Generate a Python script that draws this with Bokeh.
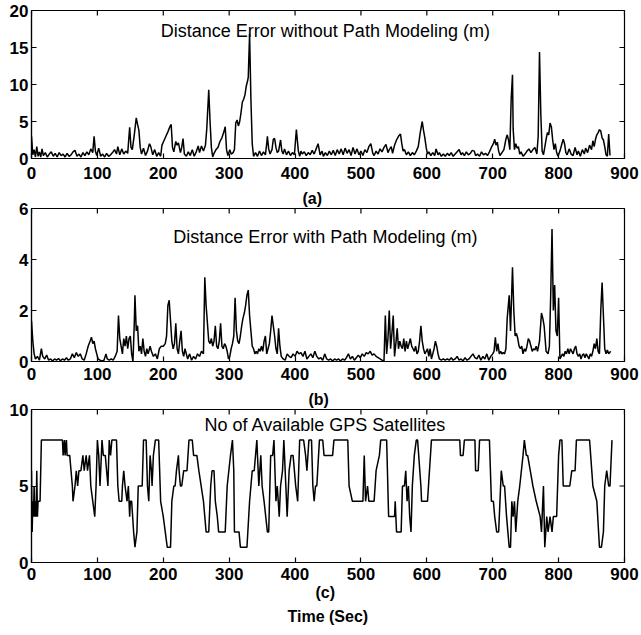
import math
from bokeh.plotting import figure
from bokeh.models import FixedTicker, Range1d, Label, Title
from bokeh.layouts import column
from bokeh.embed import file_html
from bokeh.resources import INLINE

FONT = "Liberation Sans"

x_ticks = [0, 100, 200, 300, 400, 500, 600, 700, 800, 900]
ya_ticks = [0, 5, 10, 15, 20]
yb_ticks = [0, 2, 4, 6]
yc_ticks = [0, 5, 10]

title_a = "Distance Error without Path Modeling (m)"
title_b = "Distance Error with Path Modeling (m)"
title_c = "No of Available GPS Satellites"
xlabel = "Time (Sec)"

# (a) distance error without path modeling (time s, metres)
t_a = [0, 2, 4, 6, 8, 10, 12, 14, 16, 18, 21, 24, 27, 30, 33, 36, 39, 42, 45, 48, 51, 54, 57, 60,
       63, 66, 69, 72, 75, 78, 81, 84, 87, 90, 93, 95, 97, 99, 102, 105, 108, 111, 114, 117, 120,
       123, 126, 129, 131, 134, 137, 140, 143, 146, 149, 151, 153, 156, 159, 161, 163, 165, 167,
       170, 173, 176, 179, 181, 184, 187, 190, 193, 196, 198, 201, 204, 207, 210, 212, 214, 216,
       219, 221, 223, 226, 228, 230, 232, 235, 238, 241, 244, 247, 250, 253, 255, 258, 261, 264,
       266, 268, 269, 271, 273, 275, 277, 280, 283, 286, 289, 292, 294, 296, 298, 301, 303, 306,
       308, 310, 312, 314, 316, 318, 320, 322, 324, 326, 328, 329, 331, 333, 335, 337, 340, 343,
       346, 349, 352, 355, 357, 358, 360, 362, 365, 367, 369, 371, 373, 375, 378, 380, 382, 384,
       387, 390, 393, 396, 399, 402, 405, 407, 409, 411, 414, 417, 420, 423, 426, 429, 432, 435,
       438, 441, 443, 446, 449, 452, 455, 458, 461, 464, 467, 470, 473, 476, 479, 482, 485, 488,
       491, 494, 497, 500, 503, 506, 509, 512, 515, 518, 520, 523, 526, 529, 532, 535, 538, 541,
       543, 546, 548, 551, 554, 557, 560, 562, 564, 566, 569, 572, 575, 578, 581, 584, 587, 590,
       593, 595, 597, 599, 601, 603, 606, 609, 612, 614, 617, 619, 622, 625, 628, 631, 634, 637,
       640, 643, 646, 649, 652, 654, 657, 660, 663, 666, 669, 672, 674, 677, 680, 683, 686, 689,
       692, 695, 698, 701, 703, 705, 707, 709, 711, 714, 717, 720, 722, 724, 726, 728, 730, 731,
       733, 735, 737, 739, 741, 743, 746, 749, 752, 755, 758, 761, 764, 767, 769, 771, 773, 775,
       777, 779, 781, 783, 785, 787, 789, 791, 793, 795, 797, 799, 802, 805, 807, 809, 811, 813,
       816, 819, 822, 825, 828, 830, 833, 836, 839, 841, 844, 847, 850, 852, 854, 856, 858, 860,
       862, 864, 866, 868, 870, 872, 874, 876, 878, 880]
v_a = [3.0, 0.5, 1.2, 0.2, 1.6, 0.3, 0.9, 0.2, 1.3, 0.4, 0.8, 0.2, 0.6, 0.9, 0.3, 0.7, 0.2, 0.8,
       0.4, 0.6, 0.2, 0.7, 0.3, 0.5, 0.9, 1.1, 0.3, 0.6, 0.2, 0.8, 0.4, 0.9, 0.5, 1.3, 0.8, 3.0,
       1.0, 0.4, 1.4, 0.3, 0.6, 0.2, 0.7, 0.3, 0.5, 0.8, 1.2, 0.6, 1.6, 0.5, 1.3, 0.6, 1.0, 0.7,
       4.2, 1.5, 1.2, 3.2, 5.5, 4.6, 3.8, 1.5, 0.6, 1.4, 0.4, 1.0, 2.0, 1.6, 0.5, 1.2, 0.3, 0.8,
       0.3, 1.8, 2.4, 3.0, 3.6, 4.3, 4.6, 1.5, 0.9, 2.3, 1.8, 2.1, 0.8, 1.5, 2.7, 0.6, 0.3, 0.9,
       0.4, 1.2, 0.3, 0.9, 1.7, 0.8, 1.7, 1.0, 1.8, 4.0, 7.5, 9.3, 5.0, 1.5, 0.2, 0.7, 1.2, 1.5,
       2.3, 2.8, 3.6, 4.3, 1.2, 0.4, 1.2, 0.6, 0.8, 1.2, 4.8, 5.2, 4.4, 5.0, 6.2, 7.6, 8.0, 8.6,
       9.8, 10.5, 11.0, 16.9, 8.0, 2.0, 0.3, 0.8, 0.3, 1.0, 0.4, 0.9, 0.5, 2.0, 3.0, 1.3, 0.6,
       1.2, 2.6, 2.7, 1.5, 0.8, 1.0, 2.5, 1.0, 0.6, 1.3, 0.5, 1.0, 0.4, 0.8, 0.5, 3.9, 1.0, 0.3,
       1.0, 0.6, 0.9, 0.4, 0.8, 0.5, 1.1, 0.6, 1.3, 2.0, 0.5, 1.0, 0.3, 0.8, 0.4, 1.0, 0.5, 1.1,
       0.4, 1.2, 0.6, 1.3, 0.5, 1.4, 0.7, 1.2, 0.4, 1.5, 0.6, 1.3, 0.5, 1.0, 0.4, 1.2, 0.8, 1.6,
       2.0, 0.7, 0.4, 1.0, 0.6, 1.3, 0.9, 1.5, 1.9, 0.8, 1.2, 1.6, 0.7, 1.8, 2.5, 3.0, 3.3, 2.0,
       1.0, 1.2, 0.5, 0.9, 0.4, 0.8, 0.5, 1.0, 1.6, 3.5, 5.0, 3.8, 2.8, 1.5, 0.6, 0.9, 0.4, 0.8,
       0.4, 1.3, 0.5, 0.8, 0.3, 0.6, 0.3, 0.7, 0.4, 0.8, 0.3, 0.6, 0.9, 1.2, 0.5, 0.8, 0.4, 0.9,
       0.5, 0.7, 1.1, 1.0, 0.4, 0.6, 0.3, 0.9, 0.5, 0.7, 0.4, 0.9, 1.5, 2.0, 2.6, 1.8, 2.2, 1.0,
       0.4, 0.8, 1.2, 2.6, 3.2, 2.5, 1.2, 8.0, 11.3, 4.0, 1.2, 2.0, 1.4, 1.6, 0.6, 0.9, 0.3, 0.6,
       1.0, 1.3, 0.8, 1.2, 1.5, 0.6, 3.0, 14.4, 6.0, 1.0, 0.5, 1.5, 2.6, 3.5, 3.2, 4.8, 4.3, 2.5,
       1.2, 2.0, 0.8, 0.3, 1.0, 2.0, 2.6, 2.0, 0.8, 0.5, 1.3, 0.6, 0.4, 1.5, 0.5, 1.0, 0.3, 1.2,
       0.6, 1.4, 0.8, 1.8, 1.2, 2.4, 1.6, 2.6, 3.2, 3.5, 3.9, 3.7, 2.8, 2.5, 1.6, 0.5, 0.3, 3.3,
       0.4]

# (b) distance error with path modeling (time s, metres)
t_b = [0, 2, 4, 6, 9, 12, 15, 17, 20, 23, 26, 29, 32, 35, 38, 41, 44, 47, 50, 53, 56, 59, 62,
       65, 68, 71, 74, 77, 80, 83, 86, 89, 91, 93, 95, 97, 99, 101, 104, 107, 110, 113, 115,
       118, 121, 124, 127, 130, 132, 134, 136, 138, 140, 142, 144, 146, 148, 150, 152, 154,
       156, 157, 159, 161, 163, 165, 167, 169, 171, 173, 175, 177, 180, 182, 185, 188, 191,
       194, 197, 200, 203, 205, 207, 209, 211, 213, 215, 217, 219, 221, 223, 225, 227, 229,
       231, 233, 235, 237, 240, 243, 246, 249, 252, 255, 258, 261, 263, 265, 267, 269, 271,
       273, 275, 277, 279, 281, 283, 285, 287, 289, 291, 293, 295, 297, 299, 301, 303, 305,
       307, 309, 311, 313, 315, 317, 319, 321, 323, 325, 327, 329, 331, 333, 335, 337, 339,
       341, 343, 345, 347, 349, 351, 353, 355, 357, 359, 361, 363, 365, 367, 369, 371, 373,
       375, 377, 379, 382, 385, 388, 391, 394, 397, 400, 403, 406, 409, 412, 415, 418, 421,
       424, 427, 430, 433, 436, 439, 442, 445, 448, 451, 454, 457, 460, 463, 466, 469, 472,
       475, 478, 481, 484, 487, 490, 493, 496, 499, 502, 505, 508, 511, 514, 517, 520, 523,
       526, 529, 532, 535, 537, 539, 541, 543, 545, 547, 549, 551, 553, 555, 557, 559, 561,
       563, 565, 567, 569, 571, 573, 575, 577, 579, 581, 583, 585, 587, 589, 591, 593, 595,
       597, 599, 601, 603, 605, 607, 609, 611, 613, 615, 617, 619, 622, 625, 628, 631, 634,
       637, 640, 643, 646, 649, 652, 655, 658, 661, 664, 667, 670, 673, 676, 679, 682, 685,
       688, 691, 694, 697, 700, 702, 704, 706, 708, 710, 712, 714, 716, 718, 720, 722, 725,
       727, 730, 732, 734, 736, 738, 740, 742, 744, 746, 748, 750, 752, 754, 756, 758, 760,
       762, 764, 766, 768, 771, 774, 776, 778, 781, 784, 786, 788, 790, 792, 794, 796, 798,
       800, 802, 804, 806, 808, 810, 812, 814, 816, 818, 820, 822, 824, 826, 828, 830, 832,
       834, 836, 838, 840, 842, 844, 846, 848, 850, 852, 854, 856, 858, 860, 862, 864, 866,
       868, 870, 872, 874, 876, 879]
v_b = [1.6, 0.8, 0.3, 0.1, 0.2, 0.05, 0.5, 0.2, 0.1, 0.25, 0.05, 0.1, 0.02, 0.1, 0.05, 0.12,
       0.03, 0.1, 0.05, 0.15, 0.05, 0.1, 0.3, 0.15, 0.35, 0.2, 0.3, 0.1, 0.05, 0.3, 0.6, 0.8,
       0.95, 0.7, 0.8, 0.5, 0.3, 0.1, 0.05, 0.02, 0.05, 0.3, 0.1, 0.05, 0.1, 0.05, 0.2, 0.4,
       1.8, 0.9, 0.6, 0.3, 0.9, 0.6, 1.0, 0.5, 0.9, 1.0, 0.3, 0.0, 1.5, 2.6, 1.2, 1.4, 0.4,
       0.6, 0.3, 0.9, 0.4, 0.2, 0.5, 0.3, 0.6, 0.4, 0.2, 0.3, 0.1, 0.5, 0.6, 0.6, 0.7, 1.0,
       2.2, 2.4, 1.6, 0.8, 0.5, 0.7, 1.5, 0.5, 0.3, 0.8, 1.2, 0.4, 0.2, 0.5, 0.3, 0.1, 0.3,
       0.05, 0.2, 0.1, 0.3, 0.2, 0.4, 0.3, 3.3, 2.2, 1.5, 0.8, 0.7, 0.9, 0.6, 0.8, 1.4, 0.6,
       0.5, 0.8, 1.5, 0.6, 0.5, 0.7, 0.6, 0.4, 0.1, 0.2, 0.5, 0.7, 1.0, 2.5, 1.2, 0.8, 0.7,
       1.0, 1.4, 1.7, 1.9, 2.2, 2.6, 2.8, 1.8, 1.2, 0.6, 0.5, 0.3, 0.4, 0.3, 0.5, 0.4, 0.6,
       0.4, 0.8, 1.0, 0.3, 0.5, 0.7, 1.2, 1.8, 1.4, 1.0, 0.5, 0.3, 1.3, 0.6, 0.2, 0.1, 0.05,
       0.3, 0.2, 0.15, 0.3, 0.2, 0.4, 0.3, 0.35, 0.2, 0.4, 0.1, 0.2, 0.3, 0.15, 0.4, 0.2, 0.1,
       0.15, 0.05, 0.3, 0.1, 0.05, 0.1, 0.02, 0.1, 0.05, 0.1, 0.02, 0.1, 0.05, 0.15, 0.3, 0.1,
       0.2, 0.05, 0.15, 0.25, 0.15, 0.3, 0.2, 0.35, 0.3, 0.4, 0.25, 0.3, 0.2, 0.15, 0.1, 0.05,
       0.02, 1.8, 0.3, 0.9, 2.0, 0.5, 1.1, 1.8, 0.2, 0.7, 1.3, 0.5, 0.8, 0.6, 0.5, 0.9, 0.4,
       0.8, 0.5, 0.7, 0.9, 0.6, 0.5, 0.4, 0.6, 0.3, 0.4, 0.8, 1.4, 0.8, 0.5, 0.3, 0.4, 0.5,
       0.2, 0.5, 0.1, 0.3, 0.5, 0.8, 0.6, 0.3, 0.1, 0.05, 0.1, 0.05, 0.1, 0.05, 0.15, 0.05,
       0.1, 0.2, 0.05, 0.1, 0.02, 0.15, 0.05, 0.1, 0.2, 0.3, 0.15, 0.1, 0.25, 0.05, 0.2, 0.1,
       0.3, 0.05, 0.2, 0.3, 0.4, 0.95, 0.4, 0.7, 0.3, 0.4, 0.3, 0.35, 0.3, 0.5, 1.7, 2.6, 1.2,
       3.7, 2.0, 1.0, 1.1, 0.9, 0.6, 0.5, 0.6, 0.3, 0.5, 0.4, 0.6, 0.9, 0.8, 0.6, 0.4, 0.5,
       0.45, 0.6, 0.4, 0.8, 1.9, 1.7, 1.4, 0.4, 0.3, 0.6, 2.6, 5.2, 2.0, 3.0, 1.2, 1.0, 2.5,
       0.1, 0.2, 0.3, 0.2, 0.4, 0.3, 0.5, 0.3, 0.5, 0.4, 0.3, 0.5, 0.6, 0.3, 0.2, 0.3, 0.1,
       0.25, 0.3, 0.15, 0.3, 0.2, 0.1, 0.3, 0.2, 0.4, 0.7, 0.5, 0.9, 0.4, 0.3, 2.0, 3.1, 1.8,
       0.5, 0.3, 0.45, 0.3, 0.4, 0.3, 0.5]

# (c) number of available GPS satellites
t_c = [0, 1, 2, 3, 4, 5, 6, 7, 8, 9, 10, 13, 15, 47, 48, 50, 51, 53, 54, 58, 62, 63, 66, 68,
       70, 72, 75, 78, 80, 83, 85, 88, 90, 93, 96, 98, 100, 102, 104, 107, 109, 112, 114, 116,
       118, 120, 122, 129, 131, 133, 137, 138, 140, 142, 145, 147, 149, 150, 152, 155, 157,
       160, 162, 168, 170, 174, 176, 178, 180, 182, 183, 185, 188, 193, 196, 200, 206, 211,
       213, 216, 218, 220, 223, 224, 226, 228, 231, 236, 239, 244, 246, 251, 254, 261, 265,
       269, 272, 274, 277, 279, 282, 284, 294, 297, 302, 305, 307, 308, 315, 317, 327, 331,
       335, 338, 342, 345, 348, 350, 353, 358, 360, 363, 366, 368, 371, 373, 376, 378, 381,
       383, 386, 388, 391, 394, 397, 401, 404, 407, 413, 416, 418, 421, 425, 427, 429, 431,
       433, 437, 442, 444, 457, 459, 480, 482, 487, 503, 505, 507, 510, 512, 520, 523, 528,
       530, 539, 542, 551, 552, 554, 561, 563, 566, 568, 570, 572, 574, 576, 578, 581, 584,
       586, 591, 592, 601, 607, 650, 651, 655, 657, 673, 674, 678, 680, 695, 698, 701, 703,
       706, 709, 711, 713, 716, 718, 721, 723, 725, 727, 729, 731, 733, 735, 738, 741, 746,
       748, 751, 753, 757, 761, 766, 772, 774, 777, 779, 782, 784, 787, 790, 792, 797, 800,
       802, 805, 807, 817, 820, 825, 827, 847, 852, 858, 862, 865, 868, 870, 873, 876, 878,
       881]
v_c = [6, 2, 4, 3, 5, 3, 4, 3, 6, 3, 4, 4, 8, 8, 7, 8, 7, 8, 7, 7, 5, 4, 5, 6, 5, 6, 6, 7, 6,
       7, 6, 7, 5, 4, 3, 5, 8, 7, 5, 8, 7, 7, 6, 5, 8, 7, 8, 8, 5, 4, 4, 5, 6, 5, 4, 5, 3, 4,
       4, 2, 1, 2, 5, 5, 8, 8, 5, 4, 7, 6, 5, 7, 8, 8, 4, 3, 1, 1, 4, 5, 5, 6, 7, 6, 5, 5, 6,
       6, 8, 8, 7, 7, 6, 4, 2, 2, 5, 6, 6, 4, 3, 2, 2, 5, 7, 8, 6, 2, 2, 1, 1, 4, 6, 6, 8, 5,
       7, 5, 4, 2, 2, 7, 7, 8, 4, 5, 3, 5, 6, 8, 5, 3, 6, 7, 7, 5, 4, 8, 8, 7, 6, 8, 8, 5, 4,
       5, 5, 8, 8, 7, 7, 8, 8, 5, 4, 4, 7, 4, 5, 4, 4, 6, 7, 8, 8, 3, 3, 4, 2, 2, 5, 5, 6, 4,
       5, 3, 2, 5, 7, 8, 8, 5, 4, 4, 8, 8, 7, 7, 8, 8, 6, 6, 8, 8, 4, 4, 3, 2, 2, 4, 6, 5, 5,
       3, 2, 1, 1, 4, 3, 4, 2, 4, 5, 7, 8, 7, 7, 6, 5, 4, 3, 2, 5, 1, 3, 2, 3, 2, 3, 3, 7, 8,
       8, 5, 5, 6, 6, 8, 8, 5, 4, 1, 1, 2, 5, 6, 5, 5, 8]


def style_axis(ax, ticks, standoff):
    ax.ticker = FixedTicker(ticks=ticks)
    ax.major_tick_in = 5
    ax.major_tick_out = 0
    ax.minor_tick_in = 0
    ax.minor_tick_out = 0
    ax.axis_line_color = "black"
    ax.axis_line_width = 1.2
    ax.major_tick_line_color = "black"
    ax.major_tick_line_width = 1.2
    ax.major_label_text_font = FONT
    ax.major_label_text_font_size = "17px"
    ax.major_label_text_font_style = "bold"
    ax.major_label_text_color = "black"
    ax.major_label_standoff = standoff


def make_panel(t, v, yr, yticks, height, top, bottom, xstand, title_text, title_y):
    p = figure(width=641, height=height, x_range=Range1d(0, 900), y_range=Range1d(*yr),
               output_backend="svg", toolbar_location=None, title_location=None,
               min_border_left=31, min_border_right=17,
               min_border_top=top, min_border_bottom=bottom)
    p.grid.visible = False
    p.outline_line_color = "black"
    p.outline_line_width = 1.2
    p.outline_line_alpha = 1.0
    p.background_fill_color = "white"
    p.border_fill_color = "white"
    style_axis(p.xaxis[0], x_ticks, xstand)
    style_axis(p.yaxis[0], yticks, 3)
    # inward ticks on the top and right edges of the box
    p.ray(x=x_ticks, y=[yr[1]] * len(x_ticks), length=5, length_units="screen",
          angle=-math.pi / 2, line_color="black", line_width=1.2)
    p.ray(x=[900] * len(yticks), y=yticks, length=5, length_units="screen",
          angle=math.pi, line_color="black", line_width=1.2)
    p.line(t, v, line_color="black", line_width=1.5)
    p.add_layout(Label(x=446, y=title_y, text=title_text, text_align="center",
                       text_baseline="middle", text_font=FONT, text_font_size="18px",
                       text_color="black"))
    return p


def add_title(p, text, side, offset, standoff, valign="bottom", size="16px"):
    p.add_layout(Title(text=text, align="left", offset=offset, standoff=standoff,
                       vertical_align=valign,
                       text_font=FONT, text_font_size=size, text_font_style="bold",
                       text_color="black"), side)


pa = make_panel(t_a, v_a, (0, 20), ya_ticks, 187, 10, 29, 8, title_a, 17.2)

pb = make_panel(t_b, v_b, (0, 6), yb_ticks, 201, 21, 27, 6, title_b, 4.9)
add_title(pb, "(a)", "above", 271, 0, "top")

pc = make_panel(t_c, v_c, (0, 10), yc_ticks, 242, 21, 68, 5, title_c, 9.0)
add_title(pc, "(b)", "above", 277, 0, "top")
add_title(pc, "(c)", "below", 284, -1)
add_title(pc, xlabel, "below", 256, 11)

layout = column(pa, pb, pc)
open("out.html", "w").write(file_html(layout, INLINE))
